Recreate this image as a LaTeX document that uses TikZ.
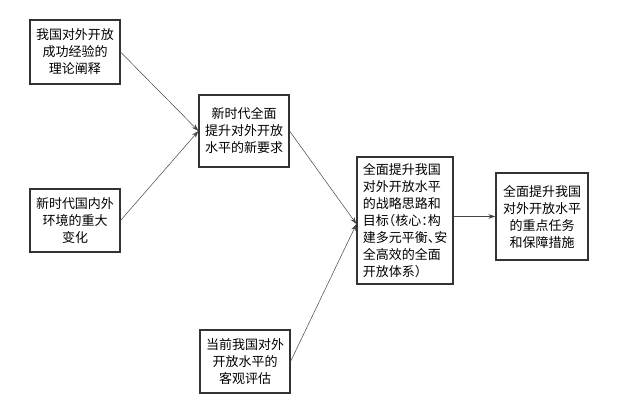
\documentclass[tikz,border=0pt]{standalone}
\usepackage{fontspec}
\newfontfamily\cjk{Noto Sans CJK SC}[RawFeature=+halt]
\usetikzlibrary{arrows.meta}
\definecolor{boxline}{HTML}{333333}
\definecolor{arrline}{HTML}{444444}

\begin{document}
\begin{tikzpicture}[x=1pt, y=-1pt,
        every node/.style={font=\cjk\fontsize{13pt}{17pt}\selectfont},
        box/.style={
          draw=boxline, line width=1.1pt,
          inner sep=0pt, align=center,
        },
        arr/.style={-{Stealth[length=7pt,width=4.5pt]}, draw=arrline, line width=0.5pt},
      ]
      \useasboundingbox (0,0) rectangle (630,404);
      \node[box, minimum width=90pt, minimum height=64pt] (A) at (75, 52)
        {我国对外开放\\成功经验的\\理论阐释};
      \node[box, minimum width=90pt, minimum height=63pt] (C) at (75, 220.5)
        {新时代国内外\\环境的重大\\变化};
      \node[box, minimum width=90pt, minimum height=72pt] (B) at (244, 131)
        {新时代全面\\提升对外开放\\水平的新要求};
      \node[box, minimum width=90pt, minimum height=63pt] (D) at (245, 361.5)
        {当前我国对外\\开放水平的\\客观评估};
      \node[box, align=left, minimum width=96pt, minimum height=127pt] (E) at (405, 220.5)
        {全面提升我国\\对外开放水平\\的战略思路和\\目标（核心：构\\建多元平衡、安\\全高效的全面\\开放体系）};
      \node[box, minimum width=92pt, minimum height=87pt] (F) at (542, 216.5)
        {全面提升我国\\对外开放水平\\的重点任务\\和保障措施};
      \draw[arr] (A.east) -- (B.west);
      \draw[arr] (C.east) -- (B.west);
      \draw[arr] (B.east) -- ([yshift=-3.5pt]E.west);
      \draw[arr] (D.east) -- ([yshift=-3.5pt]E.west);
      \draw[arr] (E.east |- F.west) -- (F.west);
    \end{tikzpicture}
\end{document}
